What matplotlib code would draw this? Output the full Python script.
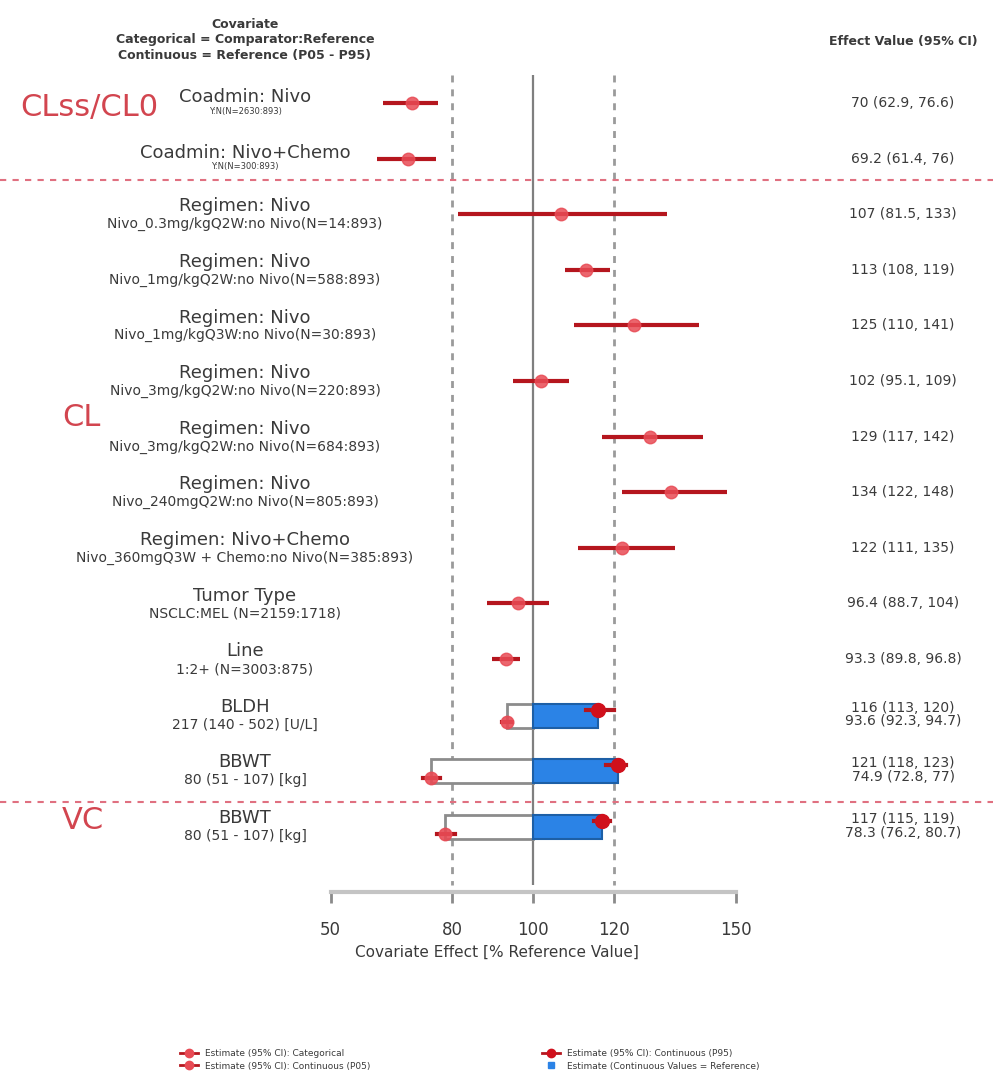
import matplotlib
matplotlib.use("Agg")
import matplotlib.pyplot as plt
import matplotlib.transforms as mtransforms
from matplotlib.patches import Rectangle
from matplotlib.lines import Line2D

# ---------------------------------------------------------------- data
row_main = [
    "Coadmin: Nivo", "Coadmin: Nivo+Chemo",
    "Regimen: Nivo", "Regimen: Nivo", "Regimen: Nivo", "Regimen: Nivo",
    "Regimen: Nivo", "Regimen: Nivo", "Regimen: Nivo+Chemo",
    "Tumor Type", "Line", "BLDH", "BBWT", "BBWT",
]
row_sub = [
    "Y:N(N=2630:893)", "Y:N(N=300:893)",
    "Nivo_0.3mg/kgQ2W:no Nivo(N=14:893)",
    "Nivo_1mg/kgQ2W:no Nivo(N=588:893)",
    "Nivo_1mg/kgQ3W:no Nivo(N=30:893)",
    "Nivo_3mg/kgQ2W:no Nivo(N=220:893)",
    "Nivo_3mg/kgQ2W:no Nivo(N=684:893)",
    "Nivo_240mgQ2W:no Nivo(N=805:893)",
    "Nivo_360mgQ3W + Chemo:no Nivo(N=385:893)",
    "NSCLC:MEL (N=2159:1718)",
    "1:2+ (N=3003:875)",
    "217 (140 - 502) [U/L]",
    "80 (51 - 107) [kg]",
    "80 (51 - 107) [kg]",
]

# categorical covariates (rows 0-10)
cat_est = [70, 69.2, 107, 113, 125, 102, 129, 134, 122, 96.4, 93.3]
cat_lo = [62.9, 61.4, 81.5, 108, 110, 95.1, 117, 122, 111, 88.7, 89.8]
cat_hi = [76.6, 76, 133, 119, 141, 109, 142, 148, 135, 104, 96.8]

# continuous covariates (rows 11-13)
p95_est = [116, 121, 117]
p95_lo = [113, 118, 115]
p95_hi = [120, 123, 119]
p05_est = [93.6, 74.9, 78.3]
p05_lo = [92.3, 72.8, 76.2]
p05_hi = [94.7, 77, 80.7]

groups = ["CLss/CL0", "CL", "VC"]
x_ticks = [50, 80, 100, 120, 150]

# ---------------------------------------------------------------- layout
W, H = 993, 1082
fig = plt.figure(figsize=(W / 100, H / 100), dpi=100)
ax = fig.add_axes([0, 0, 1, 1])
ax.patch.set_alpha(0)

x0_px, ppu = 533.0, 4.05          # pixel of 100 %, pixels per unit
row0_px, row_h = 103.0, 55.6      # pixel of first row, row height
ax.set_xlim(100 - x0_px / ppu, 100 + (W - x0_px) / ppu)
ax.set_ylim((H - row0_px) / row_h, -row0_px / row_h)


def r_of(py):
    return (py - row0_px) / row_h


TXT = "#3a3a3a"
RED_LINE = "#b5161e"
RED_MARK = "#e84b55"
RED_GROUP = "#d2454f"
BLUE = "#2b83e6"
GRAY = "#8c8c8c"

# reference lines
ax.vlines([80, 120], r_of(75), r_of(885), colors="#9a9a9a", lw=2,
          linestyles=(0, (2.5, 2.5)), zorder=1)
ax.vlines(100, r_of(75), r_of(885), colors="#7f7f7f", lw=1.6, zorder=1)

# group separators
for py in (180, 802):
    ax.axhline(r_of(py), color="#e07080", lw=1.5, ls=(0, (3, 3)), zorder=1)

n = len(row_main)
rows = list(range(n))
n_cat = len(cat_est)


def fmt(v):
    return "{:.3g}".format(v)


# categorical estimates
for i in range(n_cat):
    ax.plot([cat_lo[i], cat_hi[i]], [i, i], color=RED_LINE, lw=3,
            solid_capstyle="butt", zorder=3)
    ax.plot(cat_est[i], i, "o", ms=9, color=RED_MARK, alpha=0.85, zorder=4)

# continuous covariates
bar_h = 0.43
for k in range(len(p95_est)):
    r = n_cat + k
    ax.add_patch(Rectangle((p05_est[k], r + 0.02 - bar_h / 2), 100 - p05_est[k],
                           bar_h, facecolor="white", edgecolor=GRAY, lw=2,
                           zorder=2))
    ax.add_patch(Rectangle((100, r + 0.02 - bar_h / 2), p95_est[k] - 100,
                           bar_h, facecolor=BLUE, edgecolor="#1d5fa6", lw=1.5,
                           zorder=2))
    yu = r - 0.09
    ax.plot([p95_lo[k], p95_hi[k]], [yu, yu], color=RED_LINE, lw=3, zorder=3)
    ax.plot(p95_est[k], yu, "o", ms=10, color="#d0101c", zorder=4)
    yl = r + 0.14
    ax.plot([p05_lo[k], p05_hi[k]], [yl, yl], color=RED_LINE, lw=3, zorder=3)
    ax.plot(p05_est[k], yl, "o", ms=9, color=RED_MARK, alpha=0.9, zorder=4)

# x axis
for s in ("top", "left", "right"):
    ax.spines[s].set_visible(False)
ax.spines["bottom"].set_position(("data", r_of(892)))
ax.spines["bottom"].set_bounds(x_ticks[0], x_ticks[-1])
ax.spines["bottom"].set_color("#c4c4c4")
ax.spines["bottom"].set_linewidth(3)
ax.set_xticks(x_ticks)
ax.set_xticklabels([str(t) for t in x_ticks])
ax.tick_params(axis="x", direction="out", length=8, width=2, color="#8a8a8a",
               pad=13, labelsize=12, labelcolor=TXT)
ax.set_yticks([])
ax.set_xlabel("Covariate Effect [% Reference Value]", fontsize=11,
              color=TXT, labelpad=4)

# text columns
tr = mtransforms.blended_transform_factory(fig.transFigure, ax.transData)
cx_left = 245 / W
cx_right = 903 / W
for i in rows:
    if i < 2:
        ax.text(cx_left, i - 0.1, row_main[i], transform=tr, ha="center",
                va="center", fontsize=13, color=TXT)
        ax.text(cx_left, i + 0.15, row_sub[i], transform=tr, ha="center",
                va="center", fontsize=6, color=TXT)
    else:
        ax.text(cx_left, i - 0.14, row_main[i], transform=tr, ha="center",
                va="center", fontsize=13, color=TXT)
        ax.text(cx_left, i + 0.18, row_sub[i], transform=tr, ha="center",
                va="center", fontsize=10, color=TXT)

for i in range(n_cat):
    s = "{} ({}, {})".format(fmt(cat_est[i]), fmt(cat_lo[i]), fmt(cat_hi[i]))
    ax.text(cx_right, i, s, transform=tr, ha="center", va="center",
            fontsize=10, color=TXT)
for k in range(len(p95_est)):
    r = n_cat + k
    s = "{} ({}, {})\n{} ({}, {})".format(
        fmt(p95_est[k]), fmt(p95_lo[k]), fmt(p95_hi[k]),
        fmt(p05_est[k]), fmt(p05_lo[k]), fmt(p05_hi[k]))
    ax.text(cx_right, r, s, transform=tr, ha="center", va="center",
            fontsize=10, color=TXT, linespacing=0.95)

# headers
fig.text(245 / W, 1 - 40 / H,
         "Covariate\nCategorical = Comparator:Reference\n"
         "Continuous = Reference (P05 - P95)",
         ha="center", va="center", fontsize=9, fontweight="bold",
         color=TXT, linespacing=1.3)
fig.text(cx_right, 1 - 42 / H, "Effect Value (95% CI)", ha="center",
         va="center", fontsize=9, fontweight="bold", color=TXT)

# parameter group labels
ax.text(20 / W, 0.08, groups[0], transform=tr, ha="left", va="center",
        fontsize=22, color=RED_GROUP)
ax.text(62 / W, r_of(417), groups[1], transform=tr, ha="left", va="center",
        fontsize=22, color=RED_GROUP)
ax.text(62 / W, r_of(820), groups[2], transform=tr, ha="left", va="center",
        fontsize=22, color=RED_GROUP)

# legend
handles = [
    Line2D([], [], color=RED_LINE, lw=2, marker="o", ms=6, mfc=RED_MARK,
           mec=RED_MARK),
    Line2D([], [], color=RED_LINE, lw=2, marker="o", ms=6, mfc=RED_MARK,
           mec=RED_MARK),
    Line2D([], [], color=RED_LINE, lw=2, marker="o", ms=6, mfc="#d0101c",
           mec="#d0101c"),
    Line2D([], [], ls="none", marker="s", ms=5, color=BLUE),
]
labels = [
    "Estimate (95% CI): Categorical",
    "Estimate (95% CI): Continuous (P05)",
    "Estimate (95% CI): Continuous (P95)",
    "Estimate (Continuous Values = Reference)",
]
fig.legend(handles, labels, ncol=2, loc="center",
           bbox_to_anchor=(470 / W, 1 - 1060 / H), frameon=False,
           fontsize=6.5, labelcolor=TXT, columnspacing=19, handlelength=2,
           handletextpad=0.8, labelspacing=0.35)

fig.savefig("out.png", dpi=100, facecolor="white")
